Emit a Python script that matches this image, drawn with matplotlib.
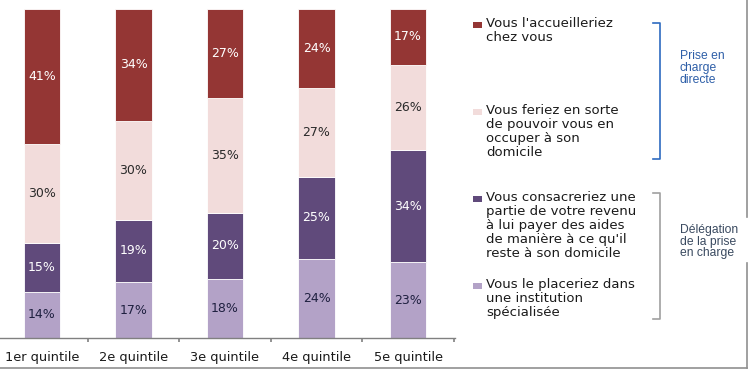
import matplotlib
matplotlib.use("Agg")
import matplotlib.pyplot as plt
from matplotlib.lines import Line2D
from matplotlib.patches import Rectangle

categories = ["1er quintile", "2e quintile", "3e quintile", "4e quintile", "5e quintile"]
institution = [14, 17, 18, 24, 23]
aides = [15, 19, 20, 25, 34]
occuper = [30, 30, 35, 27, 26]
accueil = [41, 34, 27, 24, 17]

series_labels = [
    "Vous le placeriez dans\nune institution\nspécialisée",
    "Vous consacreriez une\npartie de votre revenu\nà lui payer des aides\nde manière à ce qu'il\nreste à son domicile",
    "Vous feriez en sorte\nde pouvoir vous en\noccuper à son\ndomicile",
    "Vous l'accueilleriez\nchez vous",
]
colors = ["#B3A2C7", "#604A7B", "#F2DCDB", "#943634"]
label_colors = ["#1F2040", "white", "#2A2A2A", "white"]
series = [institution, aides, occuper, accueil]

W, H = 750, 370
fig = plt.figure(figsize=(7.5, 3.7), dpi=100)
ax = fig.add_axes([0, (H - 338) / H, 455 / W, (338 - 9) / H])

x = list(range(len(categories)))
bottom = [0] * len(categories)
for vals, c, lc in zip(series, colors, label_colors):
    bars = ax.bar(x, vals, bottom=bottom, width=0.40, color=c, edgecolor="white", linewidth=0.6)
    for b, v, b0 in zip(bars, vals, bottom):
        ax.text(b.get_x() + b.get_width() / 2, b0 + v / 2, f"{v}%", ha="center", va="center",
                fontsize=9, color=lc)
    bottom = [a + v for a, v in zip(bottom, vals)]

ax.set_xlim(-42 / 91.5, (455 - 42) / 91.5)
ax.set_ylim(0, 100)
for s in ["top", "right", "left"]:
    ax.spines[s].set_visible(False)
ax.spines["bottom"].set_color("#808080")
ax.spines["bottom"].set_linewidth(1.0)
ax.set_yticks([])
ax.set_xticks(x)
ax.set_xticklabels(categories, fontsize=9.3, color="#1a1a1a")
ax.tick_params(axis="x", which="major", length=0, pad=9)
ax.set_xticks([i + 0.5 for i in x], minor=True)
ax.tick_params(axis="x", which="minor", length=3, width=1.2, color="#808080", direction="out")

# legend
leg_y = [285, 198, 111, 24]
for lab, c, yy in zip(series_labels, colors, leg_y):
    fig.patches.append(Rectangle((473 / W, 1 - (yy + 4) / H), 9 / W, 6 / H,
                                 transform=fig.transFigure, facecolor=c, edgecolor="none"))
    fig.text(486 / W, 1 - (yy - 7) / H, lab, ha="left", va="top", fontsize=9.5,
             color="#1a1a1a", linespacing=1.1)

# brackets
def bracket(y0, y1, col):
    xs = [653 / W, 660 / W, 660 / W, 653 / W]
    ys = [1 - y0 / H, 1 - y0 / H, 1 - y1 / H, 1 - y1 / H]
    fig.lines.append(Line2D(xs, ys, transform=fig.transFigure, color=col, linewidth=1.2))

bracket(23, 159, "#2E6BC0")
bracket(193, 319, "#A0A0A0")
fig.text(680 / W, 1 - 50 / H, "Prise en\ncharge\ndirecte", ha="left", va="top", fontsize=8.7,
         color="#2E5FA8", family="Liberation Sans", linespacing=1.02)
fig.text(680 / W, 1 - 224 / H, "Délégation\nde la prise\nen charge", ha="left", va="top", fontsize=8.7,
         color="#3A4A60", family="Liberation Sans", linespacing=0.97)

# frame lines
fig.lines.append(Line2D([0, 747 / W], [1 - 368 / H, 1 - 368 / H], transform=fig.transFigure,
                        color="#909090", linewidth=1.2))
fig.lines.append(Line2D([747 / W, 747 / W], [1, 1 - 217 / H], transform=fig.transFigure,
                        color="#909090", linewidth=1.2))
fig.lines.append(Line2D([747 / W, 747 / W], [1 - 263 / H, 1 - 368 / H], transform=fig.transFigure,
                        color="#909090", linewidth=1.2))

fig.savefig("out.png", dpi=100)
